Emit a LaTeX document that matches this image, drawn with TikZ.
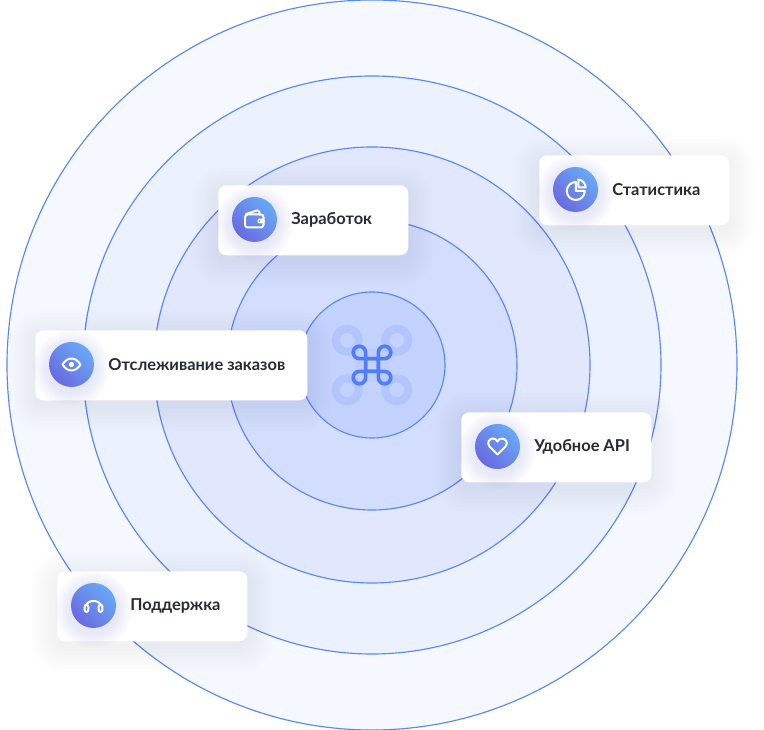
\documentclass[tikz,border=0pt]{standalone}
\usepackage{fontspec}
\setmainfont{Lato}
\usetikzlibrary{calc}
\definecolor{cus-ring}{RGB}{88,135,252}
\definecolor{cus-ringa}{RGB}{245,248,255}
\definecolor{cus-ringb}{RGB}{236,241,254}
\definecolor{cus-ringc}{RGB}{225,231,253}
\definecolor{cus-ringd}{RGB}{211,221,254}
\definecolor{cus-ringe}{RGB}{196,210,254}
\definecolor{cus-glyph}{RGB}{178,197,254}
\definecolor{cus-key}{RGB}{80,125,250}
\definecolor{cus-ink}{RGB}{40,42,52}
\definecolor{cus-shade}{RGB}{96,110,220}
\definecolor{cus-icona}{RGB}{104,170,246}
\definecolor{cus-iconb}{RGB}{106,106,224}
\tikzset{
	ring/.style={draw=cus-ring,line width=.85pt},
	card/.style={fill=white,rounded corners=6pt},
	icon/.style={circle,minimum size=33.75pt,inner sep=0pt,left color=cus-iconb,right color=cus-icona,shading angle=135},
	cardtext/.style={anchor=west,inner sep=0pt,text=cus-ink,font=\bfseries\fontsize{12.3pt}{14pt}\selectfont},
	stroke/.style={draw=white,line width=1.5pt,line cap=round,line join=round}
}
\begin{document}
\begin{tikzpicture}[x=.75pt,y=-.75pt]
\useasboundingbox (0,0) rectangle (764,730);
\fill [white] (0,0) rectangle (764,730);
\foreach \r/\c in {365/cus-ringa,289/cus-ringb,218/cus-ringc,145/cus-ringd,73/cus-ringe}{
	\draw [ring,fill=\c] (372,365) circle (\r);
}
\begin{scope}[shift={(372,365)}]
\draw [cus-glyph,line width=6pt,opacity=.3] (-13.3,-13.3) rectangle (13.3,13.3);
\foreach \a in {0,90,180,270}{
	\begin{scope}[rotate=\a]
	\draw [cus-glyph,line width=6pt] (24.8,24.8) circle (11.5);
	\end{scope}
}
\foreach \a in {0,90,180,270}{
	\begin{scope}[rotate=\a]
	\draw [cus-key,line width=2.7pt,line cap=round] (6.4,-6.4) -- (6.4,6.4) -- (6.4,12.6) arc (180:-90:6.2) -- (-6.4,6.4);
	\end{scope}
}
\end{scope}
\foreach \name/\x/\y/\w/\txt in {
	pay/218/185/190/Заработок,
	stat/539/155/190/Статистика,
	track/35/330/272/Отслеживание заказов,
	api/461/412/190/Удобное API,
	help/57/571/190/Поддержка}{
	\foreach \s in {26,24,...,2}{
		\pgfmathsetmacro\rc{6+.75*\s}
		\fill [cus-shade,opacity=.0045,rounded corners=\rc pt] (\x-\s,\y-\s+6) rectangle (\x+\w+\s,\y+70+\s+6);
	}
	\node [card,inner sep=0pt,minimum width=.75pt*\w,minimum height=52.5pt,anchor=north west] (card-\name) at (\x,\y) {};
	\foreach \s in {16,14,...,2}{
		\fill [cus-shade,opacity=.014] (\x+36.5,\y+34.5+4) circle (22.5+\s);
	}
	\node [icon] (icon-\name) at (\x+36.5,\y+34.5) {};
	\node [cardtext] (label-\name) at (\x+73,\y+35) {\txt};
}
\begin{scope}[shift={(icon-pay.center)}]
\draw [stroke,rounded corners=2pt] (-9.5,-5) rectangle (9,8);
\draw [stroke,rounded corners=1pt] (-8.5,-5.5) -- (4,-9.5) -- (5.5,-5);
\fill [white,rounded corners=1pt] (3,-0.8) rectangle (10,3.8);
\fill [cus-icona!40!cus-iconb] (5,1.5) circle (.8);
\end{scope}
\begin{scope}[shift={(icon-stat.center)}]
\draw [stroke] (.3,-7.5) arc (-90:-360:9) -- (.3,1.5) -- cycle;
\draw [stroke] (2.9,-10) -- (2.9,-2.2) -- (10.2,-2.2) .. controls (10,-6) and (7,-9.6) .. cycle;
\end{scope}
\begin{scope}[shift={(icon-track.center)}]
\draw [stroke] (-9,0) .. controls (-4,-8) and (4,-8) .. (9,0) .. controls (4,8) and (-4,8) .. cycle;
\fill [white] (0,0) circle (2.6);
\end{scope}
\begin{scope}[shift={(icon-api.center)}]
\draw [stroke] (0,8) -- (-8,0) .. controls (-11,-3.5) and (-8.5,-8) .. (-4.5,-8) .. controls (-2.5,-8) and (-1,-7) .. (0,-5) .. controls (1,-7) and (2.5,-8) .. (4.5,-8) .. controls (8.5,-8) and (11,-3.5) .. (8,0) -- cycle;
\end{scope}
\begin{scope}[shift={(icon-help.center)}]
\draw [stroke] (-7,0) .. controls (-7,-6) and (7,-6) .. (7,0);
\draw [stroke,rounded corners=1.5pt] (-8.8,-1) rectangle (-5.2,6.5);
\draw [stroke,rounded corners=1.5pt] (5.2,-1) rectangle (8.8,6.5);
\end{scope}
\end{tikzpicture}
\end{document}
